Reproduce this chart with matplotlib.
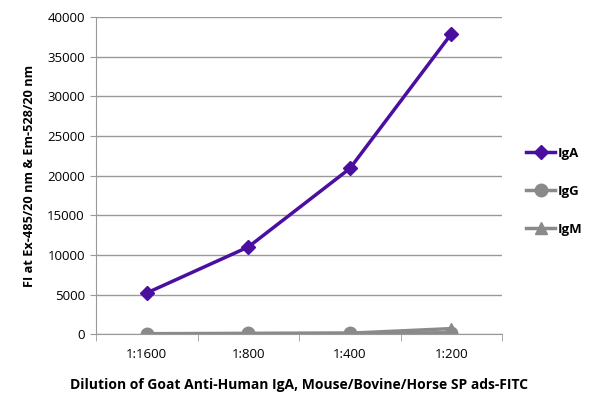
import matplotlib.pyplot as plt
from matplotlib.ticker import FixedLocator

plt.rcParams['font.family'] = ['Open Sans', 'DejaVu Sans']

dilutions = ["1:1600", "1:800", "1:400", "1:200"]
iga = [5200, 11000, 20900, 37900]
igg = [60, 90, 110, 180]
igm = [40, 70, 120, 700]

purple = "#4b0fa0"
gray = "#8a8a8a"

fig = plt.figure(figsize=(6, 4.07), dpi=100)
ax = fig.add_axes([0.16, 0.179, 0.677, 0.779])

xs = list(range(len(dilutions)))
ax.plot(xs, iga, color=purple, lw=2.5, marker="D", ms=7, label="IgA")
ax.plot(xs, igg, color=gray, lw=2.5, marker="o", ms=9, label="IgG")
ax.plot(xs, igm, color=gray, lw=2.5, marker="^", ms=8, label="IgM")

ax.set_xlim(-0.5, 3.5)
ax.set_ylim(0, 40000)
ax.set_yticks(range(0, 40001, 5000))
ax.set_xticks(xs)
ax.set_xticklabels(dilutions)
ax.xaxis.set_minor_locator(FixedLocator([-0.5, 0.5, 1.5, 2.5, 3.5]))
ax.tick_params(axis="x", which="major", length=0, pad=10, labelsize=9.5)
ax.tick_params(axis="x", which="minor", length=5, color="#999999")
ax.tick_params(axis="y", length=4, color="#999999", labelsize=9.5, pad=4)
ax.grid(axis="y", color="#999999", lw=1)
ax.set_axisbelow(True)
for s in ["top", "right"]:
    ax.spines[s].set_visible(False)
for s in ["left", "bottom"]:
    ax.spines[s].set_color("#999999")

ax.set_xlabel("Dilution of Goat Anti-Human IgA, Mouse/Bovine/Horse SP ads-FITC",
              fontsize=10, fontweight="bold", labelpad=12)
ax.set_ylabel("FI at Ex-485/20 nm & Em-528/20 nm", fontsize=9.2,
              fontweight="bold", labelpad=8)

leg = ax.legend(loc="center left", bbox_to_anchor=(1.03, 0.451), frameon=False,
                fontsize=9.5, handlelength=2.2, labelspacing=1.9, handletextpad=0.2)
for t in leg.get_texts():
    t.set_fontweight("bold")

fig.savefig("out.png", dpi=100)
